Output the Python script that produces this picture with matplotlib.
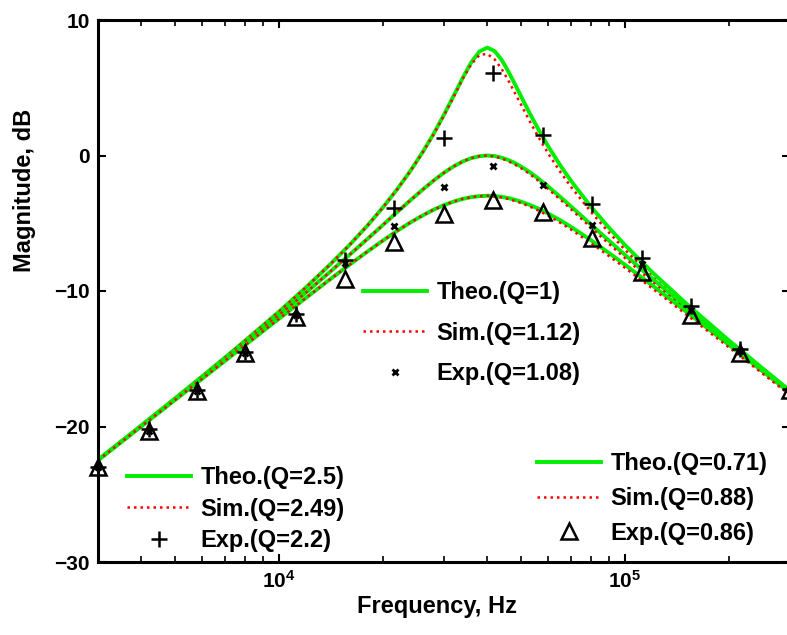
import numpy as np
from matplotlib import pyplot as plt
from matplotlib.lines import Line2D

plt.rcParams['font.family'] = ['Liberation Sans', 'DejaVu Sans']
plt.rcParams['font.weight'] = 'bold'
plt.rcParams['mathtext.fontset'] = 'custom'
plt.rcParams['mathtext.rm'] = 'Liberation Sans:bold'
plt.rcParams['mathtext.bf'] = 'Liberation Sans:bold'

# curve frequencies (Hz) and magnitudes (dB)
freq = [3000, 3500, 4000, 5000, 6000, 7000, 8000, 10000, 12000, 14000, 16000,
        18000, 20000, 22000, 24000, 26000, 28000, 30000, 32000, 34000, 36000,
        38000, 40000, 42000, 44000, 46000, 48000, 50000, 53000, 56000, 60000,
        65000, 70000, 80000, 90000, 100000, 120000, 150000, 200000, 250000, 300000]

theo_25 = [-22.45, -21.10, -19.92, -17.94, -16.30, -14.89, -13.65, -11.53, -9.71, -8.09,
           -6.60, -5.19, -3.82, -2.47, -1.13, 0.23, 1.60, 3.01, 4.41, 5.74, 6.89, 7.68,
           7.96, 7.71, 7.07, 6.22, 5.31, 4.41, 3.14, 2.01, 0.68, -0.72, -1.90, -3.82,
           -5.34, -6.60, -8.62, -10.90, -13.66, -15.71, -17.36]
sim_249 = [-22.45, -21.10, -19.92, -17.94, -16.30, -14.89, -13.65, -11.53, -9.71, -8.09,
           -6.60, -5.19, -3.82, -2.47, -1.13, 0.20, 1.55, 2.95, 4.33, 5.66, 6.75, 7.42,
           7.50, 7.10, 6.40, 5.55, 4.65, 3.80, 2.55, 1.45, 0.15, -1.20, -2.35, -4.20,
           -5.70, -6.95, -8.95, -11.20, -13.95, -15.95, -17.60]
theo_1 = [-22.47, -21.13, -19.96, -17.99, -16.38, -15.01, -13.81, -11.78, -10.09, -8.62,
          -7.33, -6.17, -5.12, -4.16, -3.30, -2.53, -1.85, -1.27, -0.80, -0.44, -0.19,
          -0.05, 0.00, -0.04, -0.16, -0.33, -0.55, -0.80, -1.22, -1.67, -2.29, -3.05,
          -3.78, -5.12, -6.29, -7.33, -9.09, -11.18, -13.81, -15.81, -17.43]
sim_112 = [-22.47, -21.13, -19.96, -17.99, -16.38, -15.01, -13.81, -11.78, -10.09, -8.62,
           -7.33, -6.17, -5.12, -4.16, -3.30, -2.53, -1.85, -1.27, -0.80, -0.44, -0.19,
           -0.05, 0.00, -0.08, -0.22, -0.42, -0.66, -0.92, -1.36, -1.83, -2.47, -3.25,
           -3.99, -5.35, -6.53, -7.57, -9.32, -11.40, -14.02, -16.00, -17.62]
theo_071 = [-22.50, -21.16, -20.00, -18.06, -16.48, -15.14, -13.98, -12.05, -10.49, -9.17,
            -8.06, -7.10, -6.27, -5.55, -4.94, -4.43, -4.00, -3.66, -3.40, -3.20, -3.07,
            -3.00, -2.97, -2.99, -3.05, -3.14, -3.26, -3.40, -3.64, -3.90, -4.28, -4.78,
            -5.28, -6.27, -7.20, -8.06, -9.59, -11.50, -13.98, -15.92, -17.50]
sim_088 = [-22.50, -21.16, -20.00, -18.06, -16.48, -15.14, -13.98, -12.05, -10.49, -9.17,
           -8.06, -7.10, -6.27, -5.55, -4.94, -4.43, -4.00, -3.66, -3.40, -3.20, -3.07,
           -3.00, -2.97, -3.03, -3.10, -3.21, -3.35, -3.50, -3.76, -4.04, -4.44, -4.96,
           -5.48, -6.49, -7.43, -8.29, -9.81, -11.71, -14.17, -16.10, -17.67]

# measured points
exp_freq = [3000, 4200, 5800, 8000, 11200, 15500, 21500, 30000, 41500, 58000,
            80500, 112000, 155000, 215000, 300000]
exp_22 = [-23.0, -20.2, -17.3, -14.5, -11.7, -7.7, -3.9, 1.3, 6.1, 1.5,
          -3.6, -7.6, -11.1, -14.3, -17.2]
exp_108 = [-23.0, -20.3, -17.4, -14.6, -11.8, -7.9, -5.2, -2.3, -0.8, -2.2,
           -5.1, -8.0, -11.4, -14.4, -17.3]
exp_086 = [-23.0, -20.3, -17.4, -14.6, -11.9, -9.1, -6.4, -4.3, -3.3, -4.2,
           -6.1, -8.6, -11.8, -14.6, -17.3]

green = '#00ee00'
red = '#ff0000'

fig = plt.figure(figsize=(7.87, 6.35), dpi=100)
ax = fig.add_axes([98/787, 73/635, 692/787, 542/635])

curves = [(theo_25, sim_249), (theo_1, sim_112), (theo_071, sim_088)]
for theo, sim in curves:
    ax.plot(freq, theo, color=green, lw=2.8, solid_capstyle='butt')
    ax.plot(freq, sim, color=red, lw=1.8, ls=(0, (1, 1.6)))

mk22 = dict(marker='+', ms=12, mew=1.8, color='black', ls='none', clip_on=False)
mk108 = dict(marker='x', ms=5, mew=2.0, color='black', ls='none', clip_on=False)
mk086 = dict(marker='^', ms=11, mew=1.8, mfc='none', mec='black', ls='none', clip_on=False)
ax.plot(exp_freq, exp_086, **mk086)
ax.plot(exp_freq, exp_22, **mk22)
ax.plot(exp_freq, exp_108, **mk108)

ax.set_xscale('log')
ax.set_xlim(3000, 300000)
ax.set_ylim(-30, 10)
ax.set_yticks([-30, -20, -10, 0, 10])
ax.tick_params(which='both', direction='in', top=True, right=True, labelsize=15)
ax.tick_params(which='major', length=6, width=1.5, pad=6)
ax.tick_params(which='minor', length=4, width=1.2)
for s in ax.spines.values():
    s.set_linewidth(2.2)
ax.set_xlabel('Frequency, Hz', fontsize=17, fontweight='bold')
ax.xaxis.set_label_coords(0.49, -0.06)
ax.set_ylabel('Magnitude, dB', fontsize=17, fontweight='bold')
ax.yaxis.set_label_coords(-0.09, 0.686)


def handles(mk):
    return [Line2D([], [], color=green, lw=2.8),
            Line2D([], [], color=red, lw=1.8, ls=(0, (1, 1.6))),
            Line2D([], [], **{k: v for k, v in mk.items() if k != 'clip_on'})]


leg_kw = dict(frameon=False, handlelength=2.7, handletextpad=0.42,
              borderpad=0, borderaxespad=0, numpoints=1,
              prop={'weight': 'bold', 'size': 17})

l1 = ax.legend(handles(mk108), ['Theo.(Q=1)', 'Sim.(Q=1.12)', 'Exp.(Q=1.08)'],
               loc='upper left', bbox_to_anchor=(363/787, 1 - 281/635),
               bbox_transform=fig.transFigure, labelspacing=0.75, **leg_kw)
ax.add_artist(l1)
l2 = ax.legend(handles(mk22), ['Theo.(Q=2.5)', 'Sim.(Q=2.49)', 'Exp.(Q=2.2)'],
               loc='upper left', bbox_to_anchor=(127/787, 1 - 466/635),
               bbox_transform=fig.transFigure, labelspacing=0.37, **leg_kw)
ax.add_artist(l2)
ax.legend(handles(mk086), ['Theo.(Q=0.71)', 'Sim.(Q=0.88)', 'Exp.(Q=0.86)'],
          loc='upper left', bbox_to_anchor=(537/787, 1 - 452/635),
          bbox_transform=fig.transFigure, labelspacing=0.5, **leg_kw)

fig.savefig('out.png', dpi=100)
